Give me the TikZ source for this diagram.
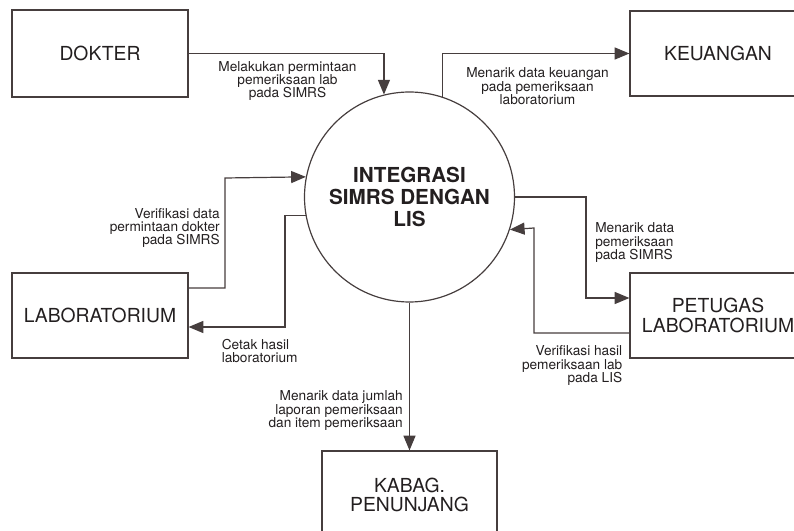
\documentclass[tikz,border=0pt]{standalone}
\usepackage{fontspec}
\setmainfont{TeX Gyre Heros}
\usetikzlibrary{arrows.meta,calc}
\definecolor{ink}{RGB}{35,31,32}
\definecolor{wire}{RGB}{70,62,62}
\begin{document}
\begin{tikzpicture}[x=0.75pt,y=-0.75pt,
  entity/.style={draw=wire, line width=0.9pt, minimum width=132pt, inner sep=0pt,
    align=center, text=ink, font=\fontsize{14.5}{14.5}\selectfont},
  process/.style={circle, draw=wire, line width=0.9pt, minimum size=157.5pt, inner sep=0pt,
    align=center, text=ink, font=\fontsize{15.5}{16.5}\selectfont\bfseries},
  flow/.style={draw=wire, line width=0.9pt, -{Triangle[length=11pt,width=9pt]}},
  note/.style={inner sep=0pt, text=ink, font=\fontsize{10.25}{10}\selectfont}
]
\useasboundingbox (0,0) rectangle (794,531);
\clip (0,0) rectangle (794,531);

% external entities
\node[entity, minimum height=65.25pt] (dokter) at (100,53.5) {DOKTER};
\node[entity, minimum height=63.75pt] (keu) at (718,53.5) {KEUANGAN};
\node[entity, minimum height=63.75pt] (lab) at (100,315.5) {LABORATORIUM};
\node[entity, minimum height=63.75pt] (pet) at (718,315.5) {PETUGAS\\LABORATORIUM};
\node[entity, minimum height=66pt, minimum width=131.25pt] (kabag) at (409.5,495) {KABAG.\\PENUNJANG};

% central process
\node[process] (proc) at (409.5,197) {INTEGRASI\\SIMRS DENGAN\\LIS};

% bend points
\coordinate (k3) at (225,178);
\coordinate (k4) at (285,327);
\coordinate (k5) at (586,298);
\coordinate (k6) at (534,228);

% data flows
\draw[flow] (dokter.east) -| (proc.104.6);
\draw[flow] (proc.72.5) |- (keu.west);
\draw[flow] ($(lab.east)+(0,-27.5)$) -| (k3) -- (proc.169.6);
\draw[flow] (proc.190.4) -| (k4) -- ($(lab.east)+(0,11.5)$);
\draw[flow] (proc.east) -| (k5) -- ($(pet.west)+(0,-17.5)$);
\draw[flow] ($(pet.west)+(0,17.5)$) -| (k6) -- (proc.342.8);
\draw[flow] (proc.south) -- (kabag.north);

% flow labels
\node[note, align=center, anchor=north] (t1) at (287.5,61) {Melakukan permintaan\\pemeriksaan lab\\pada SIMRS};
\node[note, align=center, anchor=north] (t2) at (537.5,67.5) {Menarik data keuangan\\pada pemeriksaan\\laboratorium};
\node[note, align=right, anchor=north east] (t3) at (220,208) {Verifikasi data\\permintaan dokter\\pada SIMRS};
\node[note, align=left, anchor=north west] (t4) at (221.5,339) {Cetak hasil\\laboratorium};
\node[note, align=left, anchor=north west] (t5) at (595,222.5) {Menarik data\\pemeriksaan\\pada SIMRS};
\node[note, align=right, anchor=north east] (t6) at (622.5,345.5) {Verifikasi hasil\\pemeriksaan lab\\pada LIS};
\node[note, align=right, anchor=north east] (t7) at (403,390.5) {Menarik data jumlah\\laporan pemeriksaan\\dan item pemeriksaan};
\end{tikzpicture}
\end{document}
